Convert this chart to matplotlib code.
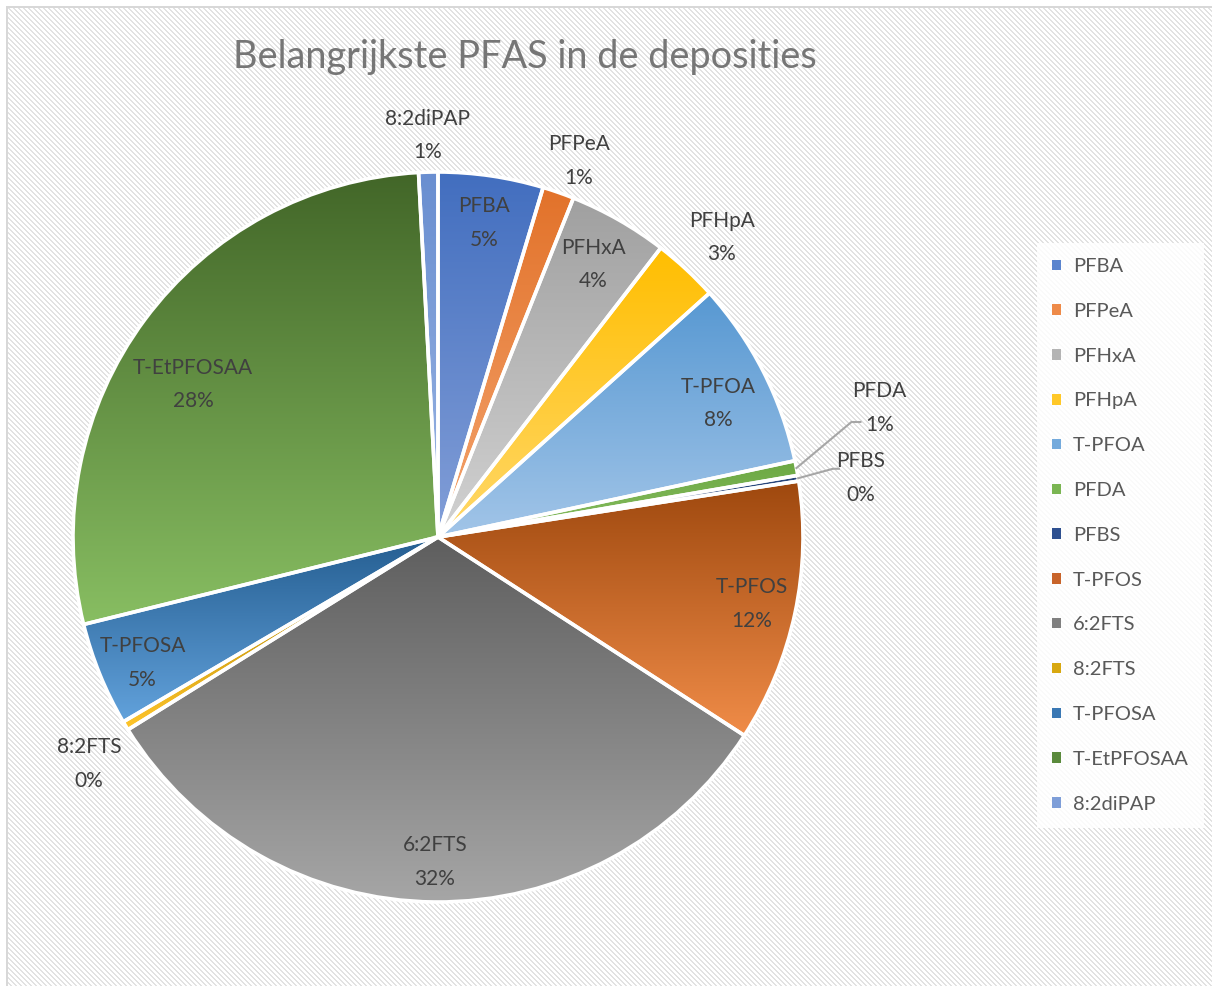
import numpy as np
import matplotlib
matplotlib.use("Agg")
from matplotlib import pyplot as plt
from matplotlib.patches import Patch

plt.rcParams['font.family'] = ['Lato', 'DejaVu Sans']

names = ['PFBA', 'PFPeA', 'PFHxA', 'PFHpA', 'T-PFOA', 'PFDA', 'PFBS',
         'T-PFOS', '6:2FTS', '8:2FTS', 'T-PFOSA', 'T-EtPFOSAA', '8:2diPAP']
values = [4.65, 1.4, 4.4, 2.9, 8.3, 0.65, 0.25, 11.6, 32.0, 0.4, 4.6, 28.0, 0.85]

# gradient colours per slice (top, bottom)
top_cols = ['#426EBF', '#E2722A', '#A0A0A0', '#FFBE00', '#5798D2', '#6CA843', '#264478',
            '#9E480E', '#5E5E5E', '#A07800', '#255E91', '#426628', '#698ED0']
bot_cols = ['#839FD8', '#F4A46E', '#D2D2D2', '#FFD86A', '#A2C5E8', '#88BE62', '#3A5C98',
            '#F08C48', '#A6A6A6', '#FFC52A', '#62A2DC', '#88BE62', '#9CB6E4']
legend_cols = ['#5A84CE', '#EE8A48', '#B4B4B4', '#FFC828', '#74AADC', '#7AB552', '#2E5090',
               '#C8642A', '#808080', '#D8A810', '#3A78B4', '#5A8A3C', '#7E9ED8']

# label placement: (radius factor, angle shift in degrees)
label_pos = {
    'PFBA': (0.87, 0), 'PFPeA': (1.10, 1.3), 'PFHxA': (0.86, 0),
    'PFHpA': (1.13, 0.6), 'T-PFOA': (0.85, 1.5), 'PFDA': (1.26, -5.4),
    'PFBS': (1.17, 1.3), 'T-PFOS': (0.88, 0), '6:2FTS': (0.89, 0),
    '8:2FTS': (1.14, -1.9), 'T-PFOSA': (0.88, -1.0),
    'T-EtPFOSAA': (0.79, -4.6), '8:2diPAP': (1.10, 0),
}
leaders = ['PFDA', 'PFBS']

W, H = 1212, 986
fig = plt.figure(figsize=(W / 100, H / 100), dpi=100)

# striped chart background
yy, xx = np.mgrid[0:H, 0:W]
bg = np.where(((xx - yy) % 5) < 2, 0.89, 1.0)
bg[(yy < 6) | (xx < 6)] = 1.0
bg[(yy >= 6) & (yy < 8) & (xx >= 6)] = 0.85
bg[(xx >= 6) & (xx < 8) & (yy >= 6)] = 0.85
fig.figimage(np.dstack([bg, bg, bg]), xo=0, yo=0, origin='upper', zorder=0)

ax = fig.add_axes([0, 0, 1, 1], zorder=2)
ax.patch.set_visible(False)

cx, cy, R = 438, H - 537, 365
wedges, _ = ax.pie(values, center=(cx, cy), radius=R, startangle=90,
                   counterclock=False, frame=True,
                   wedgeprops=dict(edgecolor='white', linewidth=2.6))

for w, c0, c1 in zip(wedges, top_cols, bot_cols):
    ext = w.get_path().get_extents()
    a = np.array(matplotlib.colors.to_rgb(c0))
    b = np.array(matplotlib.colors.to_rgb(c1))
    t = np.linspace(0, 1, 256)[:, None]
    grad = (a * (1 - t) + b * t)[:, None, :]
    im = ax.imshow(grad, extent=(ext.x0, ext.x1, ext.y0, ext.y1), origin='upper',
                   aspect='auto', zorder=1.5, interpolation='bilinear')
    im.set_clip_path(w)
    w.set_facecolor('none')
    w.set_zorder(2)

total = sum(values)
for w, name, v in zip(wedges, names, values):
    mid = np.deg2rad((w.theta1 + w.theta2) / 2)
    rf, shift = label_pos[name]
    ang = mid + np.deg2rad(-shift)
    lx, ly = cx + rf * R * np.cos(ang), cy + rf * R * np.sin(ang)
    txt = f"{name}\n{round(v / total * 100)}%"
    ax.text(lx, ly, txt, ha='center', va='center', fontsize=15, color='#404040',
            linespacing=1.85, zorder=3)
    if name in leaders:
        ex, ey = cx + R * np.cos(mid), cy + R * np.sin(mid)
        if name == 'PFDA':
            xs = [ex, lx - 28, lx - 19]
            ys = [ey, ly - 14, ly - 14]
        else:
            xs = [ex, lx - 28, lx - 22]
            ys = [ey, ly + 9, ly + 9]
        ax.plot(xs, ys, color='#A6A6A6', lw=1.5, zorder=3)

ax.set_xlim(0, W)
ax.set_ylim(0, H)
ax.set_aspect('equal')
ax.axis('off')

fig.text(525 / W, 1 - 57 / H, 'Belangrijkste PFAS in de deposities', ha='center',
         va='center', fontsize=27.3, color='#767676')

handles = [Patch(facecolor=c, edgecolor='none') for c in legend_cols]
leg = fig.legend(handles, names, loc='upper left', bbox_to_anchor=(1037 / W, 1 - 243 / H),
                 frameon=True, fontsize=14.5, labelcolor='#595959', handlelength=0.42,
                 handleheight=0.42, handletextpad=0.6, labelspacing=1.38,
                 borderpad=0.75, borderaxespad=0, fancybox=False)
leg.get_frame().set_facecolor('white')
leg.get_frame().set_alpha(0.85)
leg.get_frame().set_edgecolor('none')
leg.set_zorder(3)

fig.savefig('out.png', dpi=100)
